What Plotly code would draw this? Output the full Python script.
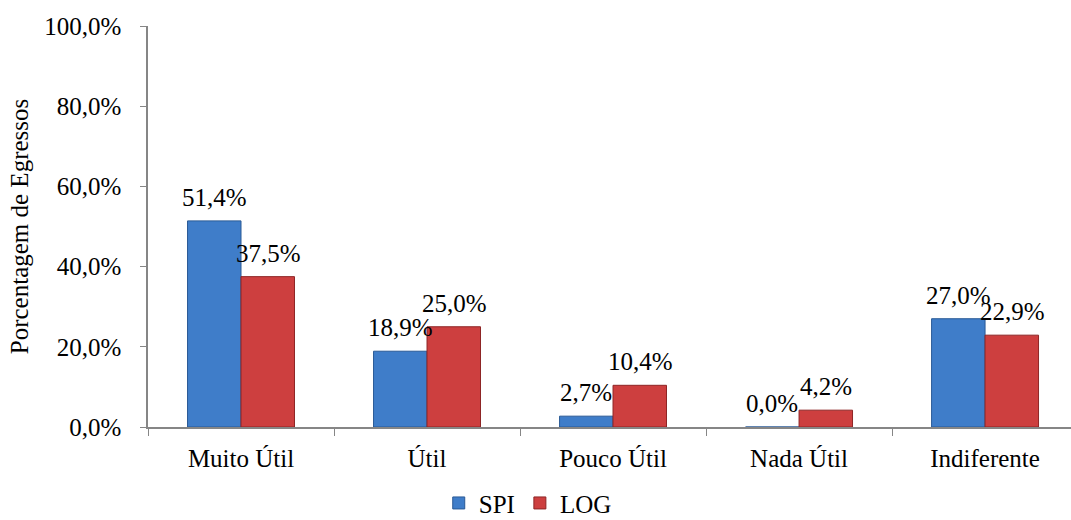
import plotly.graph_objects as go

categories = ["Muito Útil", "Útil", "Pouco Útil", "Nada Útil", "Indiferente"]
spi = [51.4, 18.9, 2.7, 0.0, 27.0]
log = [37.5, 25.0, 10.4, 4.2, 22.9]
y_ticks = [0, 20, 40, 60, 80, 100]
y_tick_text = ["0,0%", "20,0%", "40,0%", "60,0%", "80,0%", "100,0%"]

FONT = "Times New Roman"
BLUE = "#3F7DC9"
BLUE_EDGE = "#2A5A96"
RED = "#CD3F3F"
RED_EDGE = "#8E2525"

def fmt(v):
    return f"{v:.1f}".replace(".", ",") + "%"

fig = go.Figure()
fig.add_trace(go.Bar(name="SPI", x=categories, y=spi, marker=dict(color=BLUE, line=dict(color=BLUE_EDGE, width=1))))
fig.add_trace(go.Bar(name="LOG", x=categories, y=log, marker=dict(color=RED, line=dict(color=RED_EDGE, width=1))))

annotations = []
for series, shift in ((spi, -27), (log, 27)):
    for c, v in zip(categories, series):
        annotations.append(dict(x=c, y=v, xref="x", yref="y", text=fmt(v), showarrow=False,
                                xshift=shift, yanchor="bottom", yshift=8,
                                font=dict(family=FONT, size=25, color="black")))

fig.update_layout(
    width=1071, height=520,
    margin=dict(l=148, r=0, t=26, b=93, autoexpand=False),
    paper_bgcolor="white", plot_bgcolor="white",
    barmode="group", bargap=0.425, bargroupgap=0,
    font=dict(family=FONT, size=24, color="black"),
    annotations=annotations,
    showlegend=True,
    legend=dict(orientation="h", x=0.315, xanchor="left", y=-0.19, yanchor="middle",
                bgcolor="rgba(0,0,0,0)", tracegroupgap=0,
                font=dict(family=FONT, size=25), itemwidth=30, traceorder="normal"),
    xaxis=dict(range=[-0.5, 4.462], showline=True, linecolor="#868686", linewidth=1.5,
               ticks="outside", tickson="boundaries", ticklen=7, tickcolor="#868686",
               showgrid=False, ticklabelstandoff=8, tickfont=dict(family=FONT, size=25)),
    yaxis=dict(range=[0, 100], tickvals=y_ticks, ticktext=y_tick_text, showline=True,
               linecolor="#868686", linewidth=1.5, ticks="outside", ticklen=6, tickcolor="#868686",
               showgrid=False, zeroline=False, ticklabelstandoff=14,
               tickfont=dict(family=FONT, size=25),
               title=dict(text="Porcentagem de Egressos", font=dict(family=FONT, size=25), standoff=8)),
)

fig.write_html("out.html")
